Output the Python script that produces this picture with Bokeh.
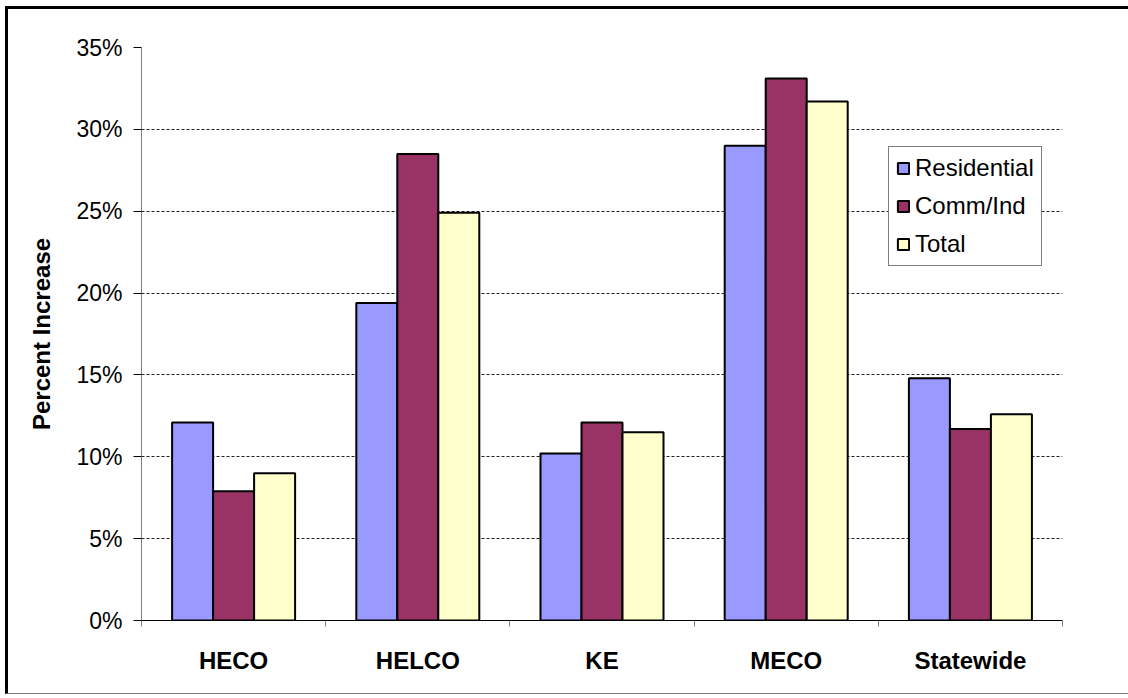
from bokeh.plotting import figure
from bokeh.models import Range1d, FixedTicker, NumeralTickFormatter, ColumnDataSource
from bokeh.embed import file_html
from bokeh.resources import INLINE

categories = ["HECO", "HELCO", "KE", "MECO", "Statewide"]
residential = [0.121, 0.194, 0.102, 0.290, 0.148]
comm_ind = [0.079, 0.285, 0.121, 0.331, 0.117]
total = [0.090, 0.249, 0.115, 0.317, 0.126]
series_names = ["Residential", "Comm/Ind", "Total"]
colors = ["#9999FF", "#993366", "#FFFFCC"]
y_ticks = [0.0, 0.05, 0.10, 0.15, 0.20, 0.25, 0.30, 0.35]

FONT = "Liberation Sans"

p = figure(width=1127, height=688, output_backend="svg", toolbar_location=None,
           x_range=Range1d(0, len(categories)), y_range=Range1d(0, 0.35),
           min_border_left=133, min_border_right=73, min_border_top=38, min_border_bottom=77)
p.styles = {"margin-left": "5px", "margin-top": "6px",
            "border-left": "3px solid black", "border-top": "3px solid black",
            "border-bottom": "1px solid #808080"}

centers = [i + 0.5 for i in range(len(categories))]
bw = 0.2226
offsets = [-bw, 0.0, bw]
for vals, name, col, off in zip([residential, comm_ind, total], series_names, colors, offsets):
    src = ColumnDataSource(dict(x=[c + off for c in centers], top=vals))
    p.vbar(x="x", top="top", width=bw, source=src, fill_color=col, line_color="black",
           line_width=2, legend_label=name)

# axes
p.xaxis.ticker = FixedTicker(ticks=centers, minor_ticks=list(range(len(categories) + 1)))
p.xaxis.major_label_overrides = {c: lab for c, lab in zip(centers, categories)}
p.xaxis.major_tick_out = 0
p.xaxis.major_tick_in = 0
p.xaxis.minor_tick_out = 6
p.xaxis.minor_tick_in = 0
p.xaxis.minor_tick_line_color = "#808080"
p.xaxis.axis_line_color = "black"
p.xaxis.major_label_text_font = FONT
p.xaxis.major_label_text_font_style = "bold"
p.xaxis.major_label_text_font_size = "24px"
p.xaxis.major_label_standoff = 20
p.xaxis.major_label_text_color = "black"

p.yaxis.ticker = FixedTicker(ticks=y_ticks)
p.yaxis.formatter = NumeralTickFormatter(format="0%")
p.yaxis.major_tick_out = 8
p.yaxis.major_tick_in = 0
p.yaxis.minor_tick_line_color = None
p.yaxis.axis_line_color = "#808080"
p.yaxis.major_tick_line_color = "black"
p.yaxis.major_label_text_font = FONT
p.yaxis.major_label_text_font_size = "23px"
p.yaxis.major_label_text_color = "black"
p.yaxis.major_label_standoff = 11
p.yaxis.axis_label = "Percent Increase"
p.yaxis.axis_label_text_font = FONT
p.yaxis.axis_label_text_font_style = "bold"
p.yaxis.axis_label_text_font_size = "24px"
p.yaxis.axis_label_text_color = "black"
p.yaxis.axis_label_standoff = 18

p.xgrid.grid_line_color = None
p.ygrid.grid_line_color = "#222222"
p.ygrid.grid_line_dash = "3 2"
p.ygrid.grid_line_width = 1
p.outline_line_color = None

# legend
lg = p.legend[0]
lg.location = (747, 354)
lg.border_line_color = "black"
lg.border_line_width = 1
lg.background_fill_color = "white"
lg.background_fill_alpha = 1
lg.label_text_font = FONT
lg.label_text_font_size = "24px"
lg.label_text_color = "black"
lg.glyph_width = 14
lg.glyph_height = 14
lg.label_height = 24
lg.label_standoff = 5
lg.spacing = 10
lg.padding = 7
lg.margin = 0

open("out.html", "w").write(file_html(p, INLINE))
